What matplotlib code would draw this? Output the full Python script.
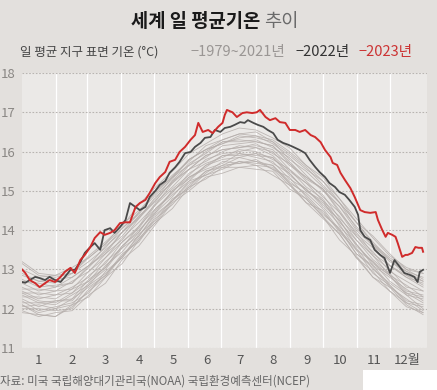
import numpy as np
import matplotlib.pyplot as plt
from matplotlib.patches import Rectangle

plt.rcParams['font.family'] = ['Noto Sans CJK KR', 'DejaVu Sans']

# 1979~2021: estimated half-monthly values (25 points per year, day 0..364)
gray_day = np.linspace(0, 364, 25)
gray_years = [
    [11.95, 11.8, 11.9, 11.95, 12.35, 12.65, 13.25, 13.6, 14.15, 14.7, 15.0, 15.35, 15.45, 15.6, 15.65, 15.4, 15.15, 14.7, 14.3, 13.9, 13.3, 12.95, 12.45, 12.05, 11.9],
    [12.1, 11.85, 11.8, 12.1, 12.3, 12.8, 13.15, 13.75, 14.2, 14.55, 15.1, 15.3, 15.6, 15.6, 15.55, 15.5, 15.05, 14.8, 14.35, 13.75, 13.35, 12.8, 12.55, 12.1, 11.85],
    [12.0, 12.0, 11.95, 12.0, 12.5, 12.85, 13.4, 13.7, 14.3, 14.65, 15.15, 15.5, 15.6, 15.75, 15.65, 15.6, 15.2, 14.7, 14.5, 13.95, 13.5, 12.9, 12.6, 12.2, 12.1],
    [12.2, 11.95, 12.05, 12.15, 12.4, 12.95, 13.3, 13.9, 14.25, 14.8, 15.05, 15.45, 15.75, 15.7, 15.8, 15.55, 15.35, 14.85, 14.4, 14.05, 13.4, 13.1, 12.6, 12.15, 12.05],
    [12.05, 12.1, 12.0, 12.25, 12.55, 12.85, 13.35, 13.85, 14.4, 14.75, 15.25, 15.4, 15.65, 15.85, 15.75, 15.65, 15.2, 14.95, 14.55, 14.0, 13.55, 13.0, 12.65, 12.35, 12.0],
    [12.25, 12.05, 12.2, 12.2, 12.65, 13.0, 13.55, 13.85, 14.45, 14.85, 15.35, 15.55, 15.7, 15.95, 15.85, 15.75, 15.3, 15.05, 14.6, 14.15, 13.5, 13.2, 12.7, 12.4, 12.15],
    [12.15, 12.15, 12.1, 12.35, 12.6, 13.1, 13.45, 13.95, 14.55, 14.9, 15.25, 15.65, 15.8, 15.85, 15.95, 15.7, 15.45, 15.0, 14.75, 14.1, 13.65, 13.15, 12.85, 12.35, 12.25],
    [12.35, 12.15, 12.2, 12.25, 12.75, 13.05, 13.6, 14.0, 14.45, 15.0, 15.35, 15.6, 15.9, 15.95, 15.9, 15.85, 15.4, 15.05, 14.65, 14.25, 13.65, 13.1, 12.8, 12.5, 12.2],
    [12.3, 12.3, 12.25, 12.5, 12.7, 13.2, 13.55, 14.1, 14.55, 14.95, 15.45, 15.7, 15.85, 16.05, 16.0, 15.8, 15.55, 15.1, 14.8, 14.2, 13.75, 13.25, 12.9, 12.45, 12.35],
    [12.45, 12.25, 12.35, 12.4, 12.85, 13.15, 13.7, 14.05, 14.65, 15.05, 15.4, 15.8, 15.95, 16.0, 16.1, 15.9, 15.5, 15.2, 14.75, 14.35, 13.75, 13.35, 12.85, 12.6, 12.3],
    [12.4, 12.4, 12.35, 12.55, 12.8, 13.3, 13.7, 14.1, 14.7, 15.1, 15.55, 15.75, 16.0, 16.15, 16.1, 16.0, 15.55, 15.2, 14.9, 14.3, 13.85, 13.35, 13.0, 12.55, 12.45],
    [12.55, 12.35, 12.45, 12.5, 12.95, 13.3, 13.8, 14.2, 14.65, 15.2, 15.55, 15.9, 16.05, 16.1, 16.2, 15.95, 15.7, 15.25, 14.85, 14.45, 13.85, 13.45, 12.95, 12.7, 12.45],
    [12.5, 12.5, 12.45, 12.7, 12.95, 13.4, 13.75, 14.3, 14.85, 15.2, 15.65, 15.85, 16.15, 16.2, 16.25, 16.15, 15.7, 15.35, 15.05, 14.45, 13.95, 13.4, 13.1, 12.8, 12.55],
    [12.65, 12.45, 12.55, 12.65, 13.1, 13.4, 13.95, 14.35, 14.8, 15.35, 15.65, 16.0, 16.25, 16.25, 16.3, 16.1, 15.85, 15.4, 15.0, 14.6, 14.0, 13.6, 13.1, 12.8, 12.65],
    [12.7, 12.65, 12.55, 12.8, 13.1, 13.6, 13.95, 14.45, 14.9, 15.3, 15.8, 16.05, 16.2, 16.4, 16.35, 16.25, 15.8, 15.5, 15.1, 14.7, 14.05, 13.65, 13.2, 12.95, 12.7],
    [12.85, 12.7, 12.65, 12.9, 13.2, 13.55, 14.05, 14.4, 15.0, 15.4, 15.75, 16.15, 16.3, 16.45, 16.5, 16.25, 15.95, 15.6, 15.15, 14.7, 14.2, 13.65, 13.3, 13.0, 12.75],
    [13.15, 12.85, 12.8, 12.9, 13.3, 13.65, 14.15, 14.5, 14.95, 15.35, 15.8, 16.05, 16.3, 16.45, 16.4, 16.3, 16.0, 15.65, 15.25, 14.8, 14.3, 13.8, 13.35, 13.05, 12.9],
    [13.0, 12.8, 12.85, 12.9, 13.35, 13.7, 14.1, 14.65, 15.1, 15.5, 15.95, 16.2, 16.45, 16.6, 16.55, 16.35, 16.1, 15.65, 15.35, 14.8, 14.2, 13.85, 13.4, 13.0, 12.9],
    [13.2, 12.9, 12.85, 13.05, 13.3, 13.65, 14.05, 14.45, 15.0, 15.35, 15.8, 16.05, 16.2, 16.35, 16.4, 16.2, 15.9, 15.55, 15.25, 14.7, 14.2, 13.7, 13.25, 12.95, 12.8],
    [11.9, 11.85, 11.8, 12.05, 12.45, 12.8, 13.35, 13.75, 14.35, 14.75, 15.1, 15.5, 15.65, 15.7, 15.75, 15.55, 15.15, 14.8, 14.35, 13.9, 13.3, 12.8, 12.45, 12.15, 11.9],
    [12.75, 12.55, 12.6, 12.65, 13.05, 13.5, 13.85, 14.35, 14.75, 15.25, 15.7, 15.95, 16.25, 16.3, 16.25, 16.15, 15.75, 15.3, 15.05, 14.5, 13.9, 13.55, 13.1, 12.85, 12.6],
    [12.1, 11.9, 12.0, 12.1, 12.6, 12.9, 13.3, 13.8, 14.2, 14.75, 15.2, 15.4, 15.55, 15.75, 15.7, 15.65, 15.25, 14.9, 14.45, 14.0, 13.4, 13.05, 12.55, 12.25, 11.95],
    [12.9, 12.7, 12.75, 12.8, 13.1, 13.45, 13.95, 14.3, 14.75, 15.25, 15.55, 15.9, 16.05, 16.1, 16.15, 16.05, 15.65, 15.35, 15.05, 14.6, 14.1, 13.6, 13.25, 12.85, 12.7],
    [12.4, 12.2, 12.15, 12.4, 12.7, 13.05, 13.6, 13.95, 14.5, 15.0, 15.3, 15.65, 15.9, 15.9, 15.95, 15.85, 15.45, 15.0, 14.7, 14.25, 13.6, 13.2, 12.85, 12.4, 12.3],
]

# 2022
y2022_day = [0, 3, 7, 12, 16, 21, 25, 30, 35, 39, 44, 48, 53, 57, 62, 66, 71, 75, 80, 84,
             89, 94, 98, 103, 107, 112, 116, 121, 125, 130, 134, 139, 143, 148, 153, 157, 162, 166, 171, 175,
             180, 184, 189, 193, 198, 202, 205, 210, 214, 219, 223, 228, 232, 237, 242, 246, 252, 257, 261, 266,
             270, 275, 279, 284, 288, 293, 297, 302, 305, 307, 311, 316, 320, 325, 329, 334, 338, 343, 347, 352,
             356, 359, 361, 364]
y2022 = [12.68, 12.66, 12.73, 12.81, 12.78, 12.73, 12.81, 12.73, 12.68, 12.81, 12.99, 12.99, 13.19, 13.42, 13.57, 13.67, 13.5, 14.0, 14.05, 13.93,
         14.08, 14.26, 14.69, 14.59, 14.51, 14.59, 14.85, 15.0, 15.15, 15.25, 15.46, 15.6, 15.74, 15.96, 15.99, 16.12, 16.22, 16.35, 16.37, 16.55,
         16.5, 16.6, 16.63, 16.68, 16.75, 16.73, 16.8, 16.73, 16.68, 16.63, 16.55, 16.47, 16.3, 16.22, 16.17, 16.12, 16.04, 15.96, 15.79, 15.61,
         15.48, 15.35, 15.2, 15.1, 14.97, 14.9, 14.77, 14.59, 14.39, 14.0, 13.83, 13.75, 13.5, 13.37, 13.29, 12.91, 13.24, 13.06, 12.91, 12.86,
         12.81, 12.68, 12.94, 12.99]

# 2023
y2023_day = [0, 3, 7, 12, 16, 21, 25, 30, 35, 39, 44, 48, 53, 57, 62, 66, 71, 75, 80, 84,
             89, 94, 98, 103, 107, 112, 116, 121, 125, 130, 134, 139, 143, 148, 153, 157, 160, 164, 169, 173,
             178, 182, 184, 186, 191, 195, 200, 204, 209, 213, 216, 221, 225, 230, 234, 239, 243, 248, 252, 257,
             262, 266, 271, 275, 280, 282, 286, 289, 293, 298, 302, 307, 311, 316, 321, 323, 327, 330, 332, 336,
             339, 341, 345, 348, 350, 354, 357, 360, 363, 364]
y2023 = [13.0, 12.91, 12.73, 12.65, 12.55, 12.65, 12.73, 12.68, 12.81, 12.94, 13.04, 12.91, 13.24, 13.37, 13.57, 13.8, 13.95, 13.88, 13.93, 14.0,
         14.18, 14.2, 14.2, 14.59, 14.69, 14.77, 14.95, 15.2, 15.35, 15.48, 15.74, 15.79, 15.99, 16.12, 16.3, 16.42, 16.73, 16.5, 16.55, 16.47,
         16.63, 16.73, 16.93, 17.06, 17.0, 16.88, 16.98, 17.0, 16.98, 17.0, 17.06, 16.88, 16.8, 16.85, 16.75, 16.73, 16.55, 16.55, 16.5, 16.55,
         16.42, 16.37, 16.24, 16.04, 15.86, 15.71, 15.66, 15.46, 15.28, 15.07, 14.84, 14.51, 14.46, 14.44, 14.46, 14.26, 14.0, 13.83, 13.93, 13.88,
         13.83, 13.67, 13.32, 13.37, 13.37, 13.42, 13.57, 13.55, 13.55, 13.45]

month_mid = [15, 46, 76, 107, 137, 168, 198, 228, 259, 289, 320, 350]
month_labels = ['1', '2', '3', '4', '5', '6', '7', '8', '9', '10', '11', '12월']
month_edges = [0, 31, 59, 90, 120, 151, 181, 212, 243, 273, 304, 334, 365]

fig = plt.figure(figsize=(4.37, 3.90), dpi=100)
fig.patch.set_facecolor('#e3e0dd')
ax = fig.add_axes([0.0503, 0.1077, 0.9267, 0.7051])
ax.set_facecolor('#ebe9e7')

for yv in gray_years:
    ax.plot(gray_day, yv, color='#b5aeab', lw=0.6, alpha=0.85)
ax.plot(y2022_day, y2022, color='#4a4a4a', lw=1.3)
ax.plot(y2023_day, y2023, color='#d02b2b', lw=1.4)

ax.set_xlim(0, 367.5)
ax.set_ylim(11, 18)
for e in month_edges[1:-1]:
    ax.axvline(e, color='white', lw=0.9, zorder=0)
for t in range(11, 19):
    ax.axhline(t, color='#b8b4b1', lw=0.8, ls=(0, (1.5, 1.5)), zorder=0.5)

ax.set_xticks(month_mid)
ax.set_xticklabels(month_labels)
ax.set_yticks(range(11, 19))
ax.tick_params(length=0, labelsize=9.5, colors='#555555', pad=4)
ax.tick_params(axis='y', colors='#8a8784', pad=5)
for s in ax.spines.values():
    s.set_visible(False)

# title
fig.text(0.605, 0.945, '세계 일 평균기온 ', ha='right', va='center', fontsize=13.5,
         fontweight='bold', color='#1a1a1a')
fig.text(0.605, 0.945, '추이', ha='left', va='center', fontsize=13.5, color='#6b6b6b')

# subtitle + legend
fig.text(0.045, 0.866, '일 평균 지구 표면 기온 (°C)', ha='left', va='center', fontsize=9, color='#444444')
fig.text(0.435, 0.866, '−1979~2021년', ha='left', va='center', fontsize=10.5, color='#9a9694')
fig.text(0.676, 0.866, '−2022년', ha='left', va='center', fontsize=10.5, color='#333333')
fig.text(0.82, 0.866, '−2023년', ha='left', va='center', fontsize=10.5, color='#cc3333')

# source
fig.text(0.0, 0.022, '자료: 미국 국립해양대기관리국(NOAA) 국립환경예측센터(NCEP)', ha='left', va='center',
         fontsize=8.3, color='#666666')
fig.patches.append(Rectangle((0.83, 0.0), 0.17, 0.052, transform=fig.transFigure,
                             facecolor='white', edgecolor='none'))

fig.savefig('out.png', dpi=100, facecolor=fig.get_facecolor())
